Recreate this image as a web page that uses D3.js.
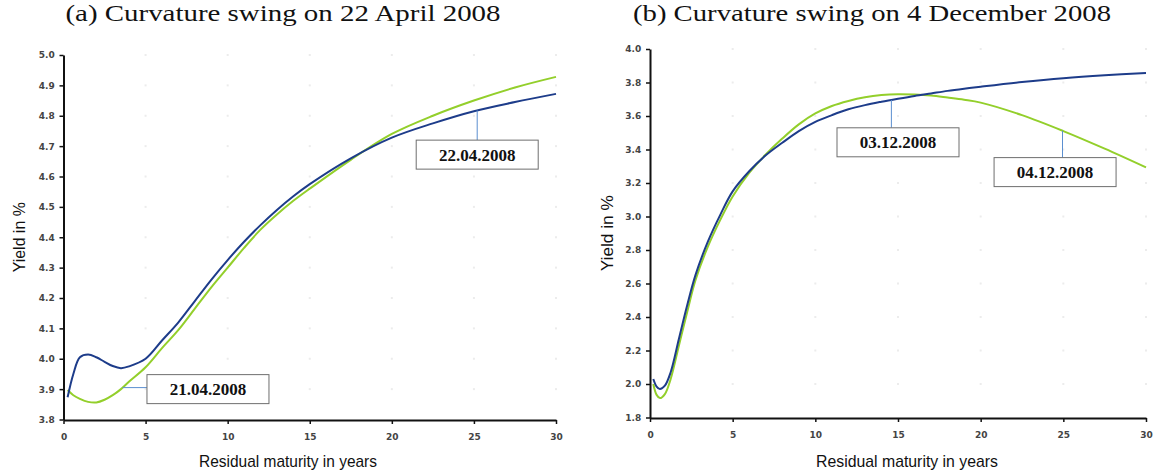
<!DOCTYPE html>
<html>
<head>
<meta charset="utf-8">
<script src="https://cdn.jsdelivr.net/npm/d3@7"></script>
<style>
  body { margin: 0; background: #fff; }
  svg { display: block; }
</style>
</head>
<body>
<div class="container"></div>
<script>
// panel (a): 21/22 April 2008
const maturityA = [0.25, 0.6, 1, 1.5, 2, 2.5, 3, 3.5, 4, 5, 6, 7, 8, 9, 10, 11, 12, 13, 14, 15, 17.5, 20, 22.5, 25, 27.5, 30];
const yield220408 = [3.873, 3.95, 4.005, 4.014, 4.005, 3.99, 3.976, 3.969, 3.975, 4.0, 4.06, 4.12, 4.19, 4.26, 4.325, 4.385, 4.44, 4.49, 4.535, 4.575, 4.66, 4.728, 4.775, 4.815, 4.845, 4.872];
const yield210408 = [3.897, 3.88, 3.868, 3.858, 3.856, 3.865, 3.88, 3.9, 3.925, 3.972, 4.035, 4.095, 4.165, 4.235, 4.3, 4.365, 4.425, 4.475, 4.52, 4.56, 4.655, 4.74, 4.8, 4.85, 4.893, 4.928];

// panel (b): 3/4 December 2008
const maturityB = [0.2, 0.4, 0.6, 0.9, 1.25, 1.75, 2.25, 2.75, 3.5, 4.25, 5, 6, 7, 8, 9, 10, 11, 12, 13, 14, 15, 16, 17, 18, 19, 20, 22.5, 25, 27.5, 30];
const yield031208 = [2.03, 1.985, 1.97, 1.99, 2.07, 2.27, 2.47, 2.65, 2.85, 3.01, 3.15, 3.27, 3.365, 3.44, 3.51, 3.565, 3.605, 3.64, 3.665, 3.685, 3.703, 3.72, 3.735, 3.75, 3.763, 3.775, 3.803, 3.826, 3.843, 3.856];
const yield041208 = [2.0, 1.935, 1.916, 1.94, 2.03, 2.23, 2.43, 2.62, 2.82, 2.98, 3.12, 3.26, 3.37, 3.465, 3.55, 3.615, 3.66, 3.69, 3.712, 3.725, 3.73, 3.728, 3.722, 3.71, 3.697, 3.68, 3.605, 3.51, 3.405, 3.293];

const xTicks = [0, 5, 10, 15, 20, 25, 30];
const yTicksA = [3.8, 3.9, 4.0, 4.1, 4.2, 4.3, 4.4, 4.5, 4.6, 4.7, 4.8, 4.9, 5.0];
const yTicksB = [1.8, 2.0, 2.2, 2.4, 2.6, 2.8, 3.0, 3.2, 3.4, 3.6, 3.8, 4.0];

const titleA = "(a) Curvature swing on 22 April 2008";
const titleB = "(b) Curvature swing on 4 December 2008";
const xTitle = "Residual maturity in years";
const yTitle = "Yield in %";

// label, maturity of the leader, value of box centre, series the leader points to
const notesA = [
  { label: "22.04.2008", at: 25.2, boxX: 25.2, boxY: 4.672, series: "blue", dir: "v" },
  { label: "21.04.2008", at: 3.6, boxX: 8.8, boxY: 3.9, series: "green", dir: "h" },
];
const notesB = [
  { label: "03.12.2008", at: 14.6, boxX: 15.0, boxY: 3.443, series: "blue", dir: "v" },
  { label: "04.12.2008", at: 24.95, boxX: 24.5, boxY: 3.265, series: "green", dir: "v" },
];

const blue = "#1d3c8a";
const green = "#93cf2b";

const width = 1156;
const height = 474;

const svg = d3.select(".container")
  .append("svg")
  .attr("width", width)
  .attr("height", height);

panel(svg, {
  title: titleA, titleX: 283, titleW: 435,
  xRange: [63.5, 556], yRange: [419.5, 55], yDomain: [3.8, 5.0],
  yTicks: yTicksA, fmt: d3.format(".1f"),
  maturity: maturityA, blueVals: yield220408, greenVals: yield210408,
  notes: notesA, yTitleX: 19, yTitleW: 70, xTitleX: 288, xTitleW: 178,
});

panel(svg, {
  title: titleB, titleX: 872, titleW: 478,
  xRange: [650, 1146], yRange: [417.5, 49], yDomain: [1.8, 4.0],
  yTicks: yTicksB, fmt: d3.format(".1f"),
  maturity: maturityB, blueVals: yield031208, greenVals: yield041208,
  notes: notesB, yTitleX: 607, yTitleW: 76, xTitleX: 907, xTitleW: 182,
});

function panel(svg, o) {
  const x = d3.scaleLinear().domain([0, 30]).range(o.xRange);
  const y = d3.scaleLinear().domain(o.yDomain).range(o.yRange);
  const g = svg.append("g");
  const x0 = o.xRange[0];
  const yBase = o.yRange[0];

  //title
  g.append("text")
    .attr("x", o.titleX)
    .attr("y", 21)
    .attr("text-anchor", "middle")
    .attr("font-family", "'Liberation Serif', 'DejaVu Serif', serif")
    .attr("font-size", 23)
    .attr("fill", "#111")
    .attr("textLength", o.titleW)
    .attr("lengthAdjust", "spacingAndGlyphs")
    .text(o.title);

  //faint grid dots
  const grid = [];
  o.yTicks.slice(1).forEach((v) => xTicks.slice(1).forEach((m) => grid.push([m, v])));
  g.selectAll("rect.grid")
    .data(grid)
    .join("rect")
    .attr("class", "grid")
    .attr("x", (d) => x(d[0]) - 1)
    .attr("y", (d) => y(d[1]) - 1)
    .attr("width", 2)
    .attr("height", 2)
    .attr("fill", "#ececec");

  //axes
  const xAxis = g.append("g")
    .attr("transform", `translate(0,${yBase + 0.5})`)
    .call(d3.axisBottom(x).tickValues(xTicks).tickSize(4).tickSizeOuter(0).tickFormat(d3.format("d")));
  const yAxis = g.append("g")
    .attr("transform", `translate(${x0},0)`)
    .call(d3.axisLeft(y).tickValues(o.yTicks).tickSize(4).tickSizeOuter(0).tickFormat(o.fmt));

  [xAxis, yAxis].forEach((a) => {
    a.select(".domain").attr("stroke", "#111").attr("stroke-width", 2);
    a.selectAll(".tick line").attr("stroke", "#111").attr("stroke-width", 1.5);
    a.selectAll(".tick text")
      .attr("font-family", "'DejaVu Sans', Verdana, sans-serif")
      .attr("font-size", 9)
      .attr("font-weight", "bold")
      .attr("fill", "#444");
  });
  xAxis.selectAll(".tick text").attr("dy", "1.45em");
  yAxis.selectAll(".tick text").attr("dx", "-0.2em");

  //axis titles
  g.append("text")
    .attr("x", o.xTitleX)
    .attr("y", 467)
    .attr("text-anchor", "middle")
    .attr("font-family", "'Liberation Sans', Arial, sans-serif")
    .attr("font-size", 17)
    .attr("fill", "#111")
    .attr("textLength", o.xTitleW)
    .attr("lengthAdjust", "spacingAndGlyphs")
    .text(xTitle);

  g.append("text")
    .attr("transform", `translate(${o.yTitleX},${(o.yRange[0] + o.yRange[1]) / 2}) rotate(-90)`)
    .attr("text-anchor", "middle")
    .attr("dy", "0.35em")
    .attr("font-family", "'Liberation Sans', Arial, sans-serif")
    .attr("font-size", 16)
    .attr("fill", "#111")
    .attr("textLength", o.yTitleW)
    .attr("lengthAdjust", "spacingAndGlyphs")
    .text(yTitle);

  //curves
  const series = {
    green: o.maturity.map((m, i) => [m, o.greenVals[i]]),
    blue: o.maturity.map((m, i) => [m, o.blueVals[i]]),
  };
  const line = d3.line()
    .x((d) => x(d[0]))
    .y((d) => y(d[1]))
    .curve(d3.curveCatmullRom.alpha(0.5));

  g.selectAll("path.curve")
    .data([["green", green], ["blue", blue]])
    .join("path")
    .attr("class", "curve")
    .attr("fill", "none")
    .attr("stroke", (d) => d[1])
    .attr("stroke-width", 2)
    .attr("d", (d) => line(series[d[0]]));

  //annotations
  const valueAt = (s, m) => {
    const pts = series[s];
    const i = d3.bisector((d) => d[0]).left(pts, m);
    const a = pts[Math.max(0, i - 1)];
    const b = pts[Math.min(pts.length - 1, i)];
    if (a[0] === b[0]) return a[1];
    return a[1] + ((b[1] - a[1]) * (m - a[0])) / (b[0] - a[0]);
  };

  const boxW = 122;
  const boxH = 29;
  o.notes.forEach((n) => {
    const cx = x(n.boxX);
    const cy = y(n.boxY);
    const px = x(n.at);
    const py = y(valueAt(n.series, n.at));
    if (n.dir === "v") {
      g.append("line")
        .attr("x1", px).attr("x2", px)
        .attr("y1", py).attr("y2", cy - boxH / 2)
        .attr("stroke", "#5b8fd0").attr("stroke-width", 1);
    } else {
      g.append("line")
        .attr("x1", px).attr("x2", cx - boxW / 2)
        .attr("y1", py).attr("y2", py)
        .attr("stroke", "#5b8fd0").attr("stroke-width", 1);
    }
    g.append("rect")
      .attr("x", cx - boxW / 2)
      .attr("y", cy - boxH / 2)
      .attr("width", boxW)
      .attr("height", boxH)
      .attr("fill", "#fff")
      .attr("stroke", "#6e6e6e")
      .attr("stroke-width", 1);
    g.append("text")
      .attr("x", cx)
      .attr("y", cy)
      .attr("dy", "0.36em")
      .attr("text-anchor", "middle")
      .attr("font-family", "'Liberation Serif', 'Times New Roman', serif")
      .attr("font-weight", "bold")
      .attr("font-size", 17)
      .attr("fill", "#111")
      .text(n.label);
  });
}
</script>
</body>
</html>
